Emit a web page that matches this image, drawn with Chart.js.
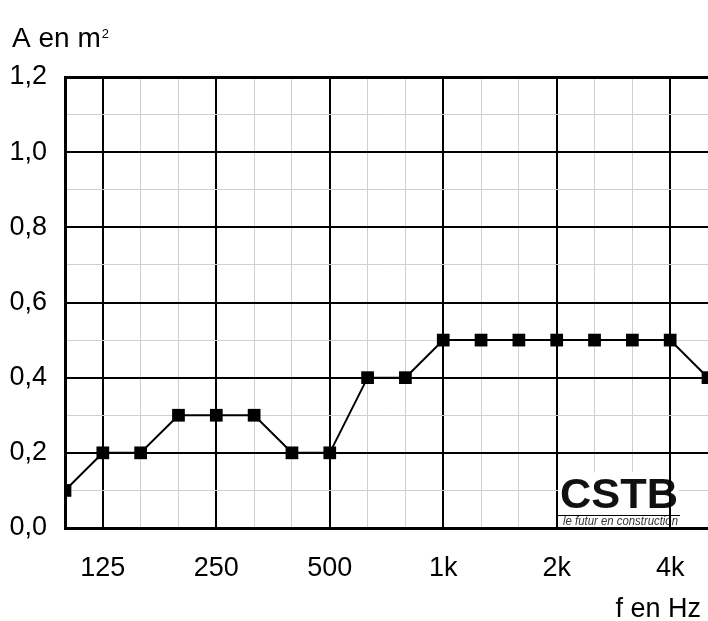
<!DOCTYPE html>
<html>
<head>
<meta charset="utf-8">
<script src="https://cdn.jsdelivr.net/npm/chart.js@4"></script>
<style>
  html, body { margin: 0; padding: 0; background: #fff; overflow: hidden; }
  #wrap { width: 708px; height: 621px; }
</style>
</head>
<body>
<div id="wrap"><canvas id="chart"></canvas></div>
<script>
// Bandes de tiers d'octave (Hz) et aire d'absorption équivalente (m²)
const bands = ['100', '125', '160', '200', '250', '315', '400', '500', '630', '800',
               '1k', '1.25k', '1.6k', '2k', '2.5k', '3.15k', '4k', '5k'];
const absorption = [0.1, 0.2, 0.2, 0.3, 0.3, 0.3, 0.2, 0.2, 0.4, 0.4,
                    0.5, 0.5, 0.5, 0.5, 0.5, 0.5, 0.5, 0.4];
// Bandes d'octave affichées sur l'axe
const octaveLabels = ['125', '250', '500', '1k', '2k', '4k'];
const yTickLabels = ['0,0', '0,2', '0,4', '0,6', '0,8', '1,0', '1,2'];

const FONT = "'Liberation Sans', Arial, sans-serif";
const NARROW = "'Liberation Sans Narrow', 'Liberation Sans', sans-serif";

// Logo CSTB, dessiné après la grille
const logo = {
    id: 'logo',
    beforeDatasetsDraw(chart) {
        const ctx = chart.ctx;
        ctx.save();
        ctx.fillStyle = '#fff';
        ctx.fillRect(558, 472, 121, 54);
        ctx.fillStyle = '#111';
        ctx.textAlign = 'left';
        ctx.textBaseline = 'alphabetic';
        ctx.font = 'bold 42px ' + NARROW;
        const w = ctx.measureText('CSTB').width;
        ctx.save();
        ctx.translate(560, 508);
        ctx.scale(118 / w, 1);
        ctx.fillText('CSTB', 0, 0);
        ctx.restore();
        ctx.strokeStyle = '#000';
        ctx.lineWidth = 1;
        ctx.beginPath();
        ctx.moveTo(557, 515.5);
        ctx.lineTo(680, 515.5);
        ctx.stroke();
        ctx.fillStyle = '#333';
        ctx.font = 'italic 13px ' + NARROW;
        const tw = ctx.measureText('le futur en construction').width;
        ctx.save();
        ctx.translate(563, 525);
        ctx.scale(Math.min(1, 115 / tw), 1);
        ctx.fillText('le futur en construction', 0, 0);
        ctx.restore();
        // la ligne 4k traverse le logo
        const x4k = Math.round(chart.scales.x.getPixelForValue(bands.indexOf('4k')));
        ctx.fillStyle = '#000';
        ctx.fillRect(x4k - 1, 472, 2, 54);
        ctx.restore();
    }
};

// Titres des axes
const axisTexts = {
    id: 'axisTexts',
    afterDraw(chart) {
        const ctx = chart.ctx;
        ctx.save();
        ctx.fillStyle = '#000';
        ctx.textBaseline = 'alphabetic';
        ctx.textAlign = 'left';
        ctx.font = '28px ' + FONT;
        ctx.fillText('A en m', 12, 47);
        const mw = ctx.measureText('A en m').width;
        ctx.font = '13px ' + FONT;
        ctx.fillText('2', 12 + mw + 1, 38);
        ctx.font = '27px ' + FONT;
        ctx.textAlign = 'right';
        ctx.fillText('f en Hz', 701, 617);
        ctx.restore();
    }
};

const ctx = document.getElementById('chart').getContext('2d');
new Chart(ctx, {
    type: 'line',
    data: {
        labels: bands,
        datasets: [{
            data: absorption,
            borderColor: '#000',
            borderWidth: 2,
            backgroundColor: '#000',
            pointStyle: 'rect',
            pointRadius: 9,
            pointHoverRadius: 9,
            pointBorderWidth: 0,
            tension: 0,
            clip: 0
        }]
    },
    options: {
        responsive: true,
        maintainAspectRatio: false,
        animation: false,
        layout: { autoPadding: false, padding: { top: 77, right: 0, left: 0, bottom: 0 } },
        plugins: {
            legend: { display: false },
            tooltip: { enabled: false }
        },
        scales: {
            x: {
                offset: false,
                afterFit(scale) {
                    scale.height = 93;
                    scale.paddingRight = 0;
                    scale.paddingLeft = 0;
                },
                border: { color: '#000', width: 3 },
                grid: {
                    drawTicks: false,
                    color: c => octaveLabels.includes(bands[c.index]) ? '#000' : '#cfcfcf',
                    lineWidth: c => octaveLabels.includes(bands[c.index]) ? 2 : 1
                },
                ticks: {
                    autoSkip: false,
                    maxRotation: 0,
                    padding: 24,
                    color: '#000',
                    font: { family: FONT, size: 27 },
                    callback: function (value, index) {
                        return octaveLabels.includes(bands[index]) ? bands[index] : '';
                    }
                }
            },
            y: {
                min: 0,
                max: 1.2,
                afterFit(scale) { scale.width = 65; },
                border: { color: '#000', width: 3 },
                grid: {
                    drawTicks: false,
                    color: c => Math.round(c.tick.value * 10) % 2 === 0 ? '#000' : '#cfcfcf',
                    lineWidth: c => {
                        const v = Math.round(c.tick.value * 10);
                        if (v === 12) return 3;
                        return v % 2 === 0 ? 2 : 1;
                    }
                },
                ticks: {
                    stepSize: 0.1,
                    padding: 18,
                    color: '#000',
                    font: { family: FONT, size: 27 },
                    callback: function (value) {
                        const v = Math.round(value * 10);
                        return v % 2 === 0 ? yTickLabels[v / 2] : '';
                    }
                }
            }
        }
    },
    plugins: [logo, axisTexts]
});
</script>
</body>
</html>
